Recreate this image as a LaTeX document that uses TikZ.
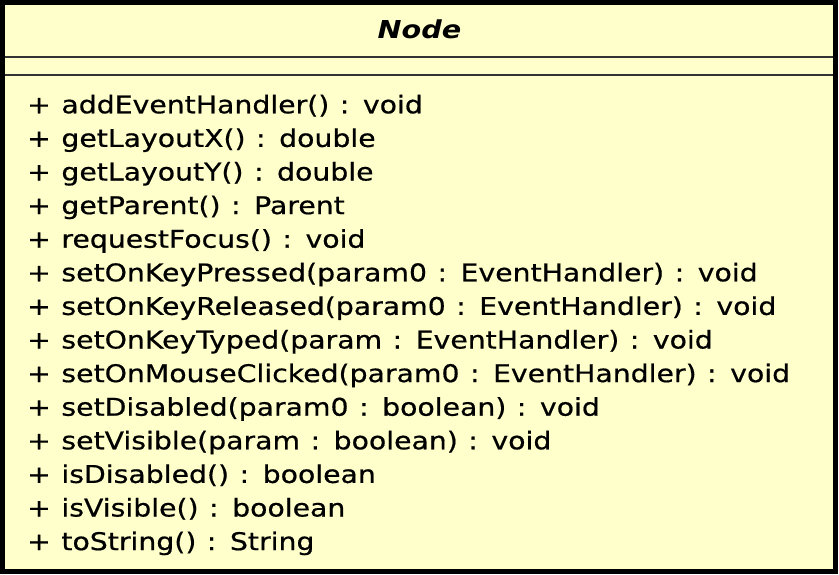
\documentclass[tikz,border=0pt]{standalone}
\usepackage{fontspec}
\newfontfamily\umlfont[FakeStretch=1.16, FakeBold=0.6, WordSpace=1.17]{DejaVu Sans}
\newfontfamily\umltitlefont[FakeStretch=1.16]{DejaVu Sans}
\definecolor{classfill}{HTML}{FFFFCC}
\definecolor{sepline}{HTML}{333333}
\tikzset{
    method/.style={anchor=base west, inner sep=0pt, font=\umlfont\fontsize{24.4}{28}\selectfont},
    classname/.style={anchor=base, inner sep=0pt, font=\umltitlefont\fontsize{24.7}{28}\selectfont\bfseries\itshape}
}
\begin{document}
\begin{tikzpicture}[x=1pt, y=-1pt]
    \useasboundingbox (0, 0) rectangle (839, 574);
    \fill[classfill] (0, 0) rectangle (838, 574);
    \draw[line width=2pt, sepline] (0, 56.5) -- (838, 56.5);
    \draw[line width=2pt, sepline] (0, 75) -- (838, 75);
    \draw[line width=5pt] (2.5, 2.5) rectangle (835.5, 571.5);
    \node[classname] (name) at (419.5, 38.3) {Node};
    \foreach \m [count=\i] in {
        {+ addEventHandler() : void},
        {+ getLayoutX() : double},
        {+ getLayoutY() : double},
        {+ getParent() : Parent},
        {+ requestFocus() : void},
        {+ setOnKeyPressed(param0 : EventHandler) : void},
        {+ setOnKeyReleased(param0 : EventHandler) : void},
        {+ setOnKeyTyped(param : EventHandler) : void},
        {+ setOnMouseClicked(param0 : EventHandler) : void},
        {+ setDisabled(param0 : boolean) : void},
        {+ setVisible(param : boolean) : void},
        {+ isDisabled() : boolean},
        {+ isVisible() : boolean},
        {+ toString() : String}}
        \node[method] (m\i) at (27, {113.3 + (\i - 1) * 33.6}) {\m};
\end{tikzpicture}
\end{document}
